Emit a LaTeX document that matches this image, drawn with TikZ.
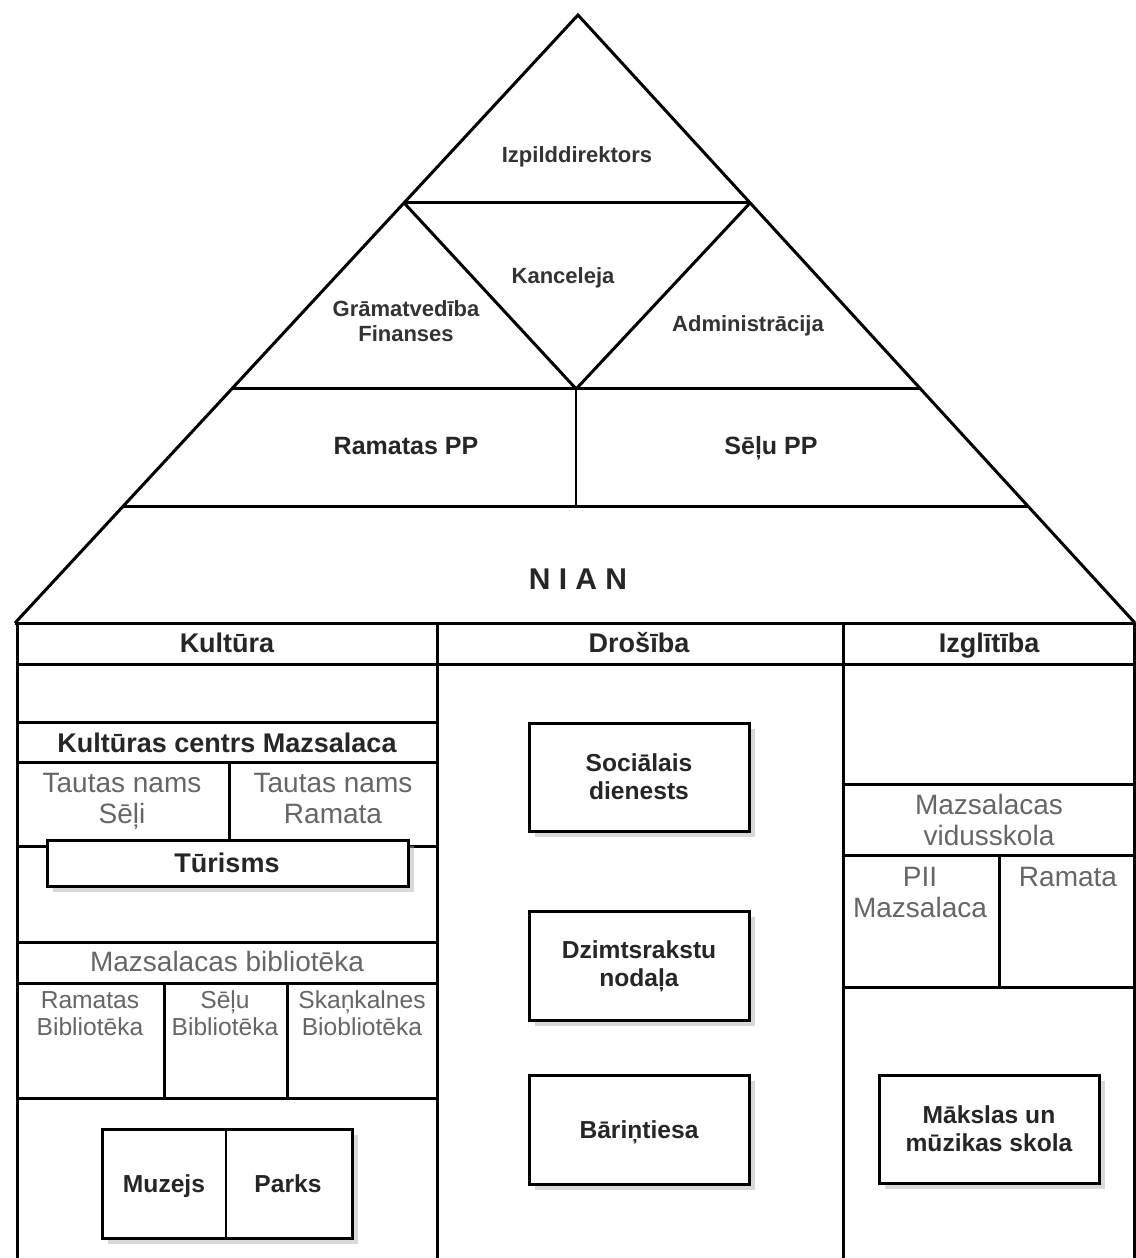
\documentclass[tikz,border=0pt]{standalone}
\usepackage{fontspec}
\setmainfont{Liberation Sans}
\usetikzlibrary{calc,shadows}

\begin{document}
\begin{tikzpicture}[x=0.5pt,y=-0.5pt,
    wall/.style={line width=1.5pt},
    thin/.style={line width=1pt},
    card/.style={line width=1.5pt, fill=white,
      drop shadow={shadow xshift=3pt, shadow yshift=-3pt, fill=black!30}},
    txt/.style={inner sep=0pt, align=center, yshift=-1.8pt,
      execute at begin node=\strut, execute at end node=\strut},
    head/.style={txt, font=\fontsize{13.5}{15}\selectfont\bfseries, text=black!85},
    roof/.style={txt, font=\fontsize{11}{12.5}\selectfont\bfseries, text=black!80},
    roofpp/.style={txt, font=\fontsize{12.5}{14}\selectfont\bfseries, text=black!85},
    grey/.style={txt, font=\fontsize{14}{15.5}\selectfont, text=black!60},
    lib/.style={txt, font=\fontsize{12.3}{13.5}\selectfont, text=black!60},
    boxtxt/.style={txt, font=\fontsize{12.3}{14}\selectfont\bfseries, text=black!85}]
	\useasboundingbox (0,0) rectangle (1135,1258);

	% roof
	\coordinate (top) at (578,15);
	\coordinate (bl) at (15,623);
	\coordinate (br) at (1135,623);
	\foreach \t/\n in {0.309/p, 0.615/q, 0.8076/r} {
		\coordinate (\n l) at ($(top)!\t!(bl)$);
		\coordinate (\n r) at ($(top)!\t!(br)$);
	}
	\coordinate (mid) at ($(ql)!0.5!(qr)$);
	\draw [wall] (bl) -- (top) -- (br);
	\draw [wall] (pl) -- (pr);
	\draw [wall] (ql) -- (qr);
	\draw [wall] (rl) -- (rr);
	\draw [wall] (pl) -- (mid) -- (pr);
	\draw [thin] (mid) -- (mid |- rl);

	\node [roof] (izp) at (577,154) {Izpilddirektors};
	\node [roof] (kanc) at (563,275) {Kanceleja};
	\node [roof] (gram) at (406,321) {Grāmatvedība\\Finanses};
	\node [roof] (adm) at (748,323) {Administrācija};
	\node [roofpp] (rampp) at (406,445) {Ramatas PP};
	\node [roofpp] (selpp) at (771,445) {Sēļu PP};
	\node [txt, font=\fontsize{15}{17}\selectfont\bfseries, text=black!85] (nian) at (578,579) {N I A N};

	% house
	\draw [wall] (bl) -- (br);
	\draw [wall] (17,623) -- (17,1262);
	\draw [wall] (437,623) -- (437,1262);
	\draw [wall] (843,623) -- (843,1262);
	\draw [wall] (1134,623) -- (1134,1262);
	\draw [wall] (17,664) -- (1134,664);
	\node [head] (kult) at (227,643) {Kultūra};
	\node [head] (dros) at (639,643) {Drošība};
	\node [head] (izgl) at (989,643) {Izglītība};

	% Kultura
	\draw [wall] (17,722) rectangle (437,762);
	\node [head] (kcm) at (227,743) {Kultūras centrs Mazsalaca};
	\draw [wall] (229,762) -- (229,846);
	\draw [wall] (17,846) -- (437,846);
	\node [grey] (tnsel) at (122,799) {Tautas nams\\Sēļi};
	\node [grey] (tnram) at (333,799) {Tautas nams\\Ramata};
	\draw [card] (47,840) rectangle (408,886);
	\node [head] (tur) at (227,863) {Tūrisms};

	\draw [wall] (17,942) rectangle (437,983);
	\node [grey] (mbib) at (227,962) {Mazsalacas bibliotēka};
	\draw [wall] (164,983) -- (164,1098);
	\draw [wall] (287,983) -- (287,1098);
	\draw [wall] (17,1098) -- (437,1098);
	\node [lib] (rbib) at (90,1014) {Ramatas\\Bibliotēka};
	\node [lib] (sbib) at (225,1014) {Sēļu\\Bibliotēka};
	\node [lib] (skbib) at (362,1014) {Skaņkalnes\\Biobliotēka};

	\draw [card] (102,1129) rectangle (352,1238);
	\draw [thin] (226,1129) -- (226,1238);
	\node [boxtxt] (muz) at (164,1183) {Muzejs};
	\node [boxtxt] (park) at (288,1183) {Parks};

	% Drosiba
	\draw [card] (529,723) rectangle (749,831);
	\node [boxtxt] (soc) at (639,777) {Sociālais\\dienests};
	\draw [card] (529,911) rectangle (749,1020);
	\node [boxtxt] (dzim) at (639,964) {Dzimtsrakstu\\nodaļa};
	\draw [card] (529,1075) rectangle (749,1184);
	\node [boxtxt] (bar) at (639,1129) {Bāriņtiesa};

	% Izglitiba
	\draw [wall] (843,784) -- (1134,784);
	\draw [wall] (843,855) -- (1134,855);
	\draw [wall] (999,855) -- (999,987);
	\draw [wall] (843,987) -- (1134,987);
	\node [grey] (mvs) at (989,821) {Mazsalacas\\vidusskola};
	\node [grey] (pii) at (920,893) {PII\\Mazsalaca};
	\node [grey] (ram) at (1068,877) {Ramata};
	\draw [card] (879,1075) rectangle (1099,1183);
	\node [boxtxt] (mms) at (989,1129) {Mākslas un\\mūzikas skola};
\end{tikzpicture}
\end{document}
